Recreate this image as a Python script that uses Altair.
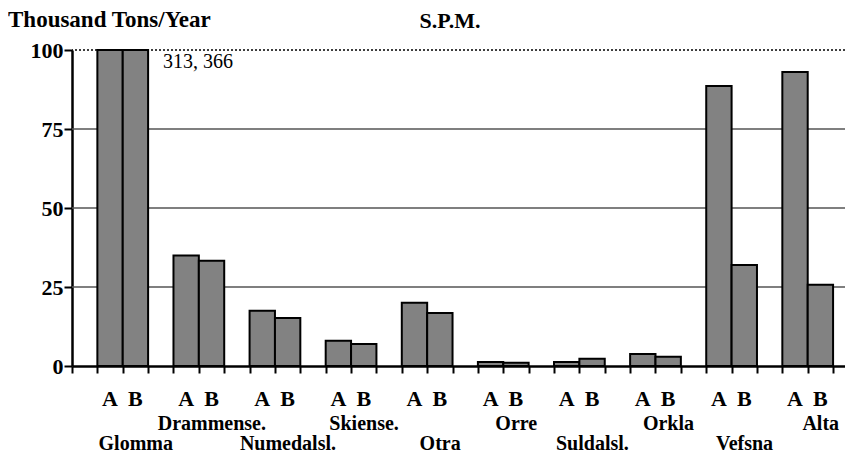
import altair as alt
import pandas as pd

rivers = ["Glomma", "Drammense.", "Numedalsl.", "Skiense.", "Otra",
          "Orre", "Suldalsl.", "Orkla", "Vefsna", "Alta"]
series = ["A", "B"]
a_vals = [313, 35.0, 17.5, 8.0, 20.0, 1.3, 1.3, 3.8, 88.6, 93.0]
b_vals = [366, 33.3, 15.2, 7.0, 16.8, 1.0, 2.3, 2.9, 32.0, 25.7]
y_ticks = [0, 25, 50, 75, 100]
grid_vals = [25, 50, 75]
top_val = [100]
overflow_note = "313, 366"
y_title = "Thousand Tons/Year"
chart_title = "S.P.M."

FONT = "Liberation Serif"
W, H = 773, 316

# build tables
bar_rows, ab_rows, name_rows = [], [], []
for i, r in enumerate(rivers):
    for j, (s, v) in enumerate(zip(series, [a_vals[i], b_vals[i]])):
        bar_rows.append({"river": r, "series": s, "x0": 3 * i + 1 + j,
                         "x1": 3 * i + 2 + j, "value": v})
        ab_rows.append({"label": s, "pos": 3 * i + 1.5 + j})
    name_rows.append({"name": r, "pos": 3 * i + 2, "row": 1 if i % 2 else 2})

bars_df = pd.DataFrame(bar_rows)
ab_df = pd.DataFrame(ab_rows)
names_df = pd.DataFrame(name_rows)

xs = alt.Scale(domain=[0, 30.47], nice=False, zero=False)
ys = alt.Scale(domain=[0, 100], nice=False, clamp=True)

xaxis = alt.Axis(values=list(range(31)), labels=False, tickSize=7, tickWidth=2,
                 tickColor="#000", domainWidth=2.5, domainColor="#000",
                 grid=False, title=None)
yaxis = alt.Axis(values=y_ticks, tickSize=8, tickWidth=2, tickColor="#000",
                 domainWidth=2.5, domainColor="#000", grid=False, title=None,
                 labelFont=FONT, labelFontSize=22, labelFontWeight="bold",
                 labelColor="#000", labelPadding=1)

grid = alt.Chart(pd.DataFrame({"v": grid_vals})).mark_rule(
    color="#555555", strokeWidth=1.3
).encode(y=alt.Y("v:Q", scale=ys, axis=yaxis))

top = alt.Chart(pd.DataFrame({"v": top_val})).mark_rule(
    color="#000000", strokeWidth=1.5, strokeDash=[2, 2]
).encode(y=alt.Y("v:Q", scale=ys, axis=yaxis))

bars = alt.Chart(bars_df).mark_bar(
    fill="#828282", stroke="#000000", strokeWidth=2
).encode(
    x=alt.X("x0:Q", scale=xs, axis=xaxis),
    x2="x1:Q",
    y=alt.Y("value:Q", scale=ys, axis=yaxis),
    y2=alt.datum(0),
)

ab_text = alt.Chart(ab_df).mark_text(
    font=FONT, fontSize=22, fontWeight="bold", color="#000",
    align="center", baseline="alphabetic"
).encode(x=alt.X("pos:Q", scale=xs, axis=xaxis), y=alt.value(356),
         text="label:N")

row1 = alt.Chart(names_df).transform_filter("datum.row == 1").mark_text(
    font=FONT, fontSize=20, fontWeight="bold", color="#000",
    align="center", baseline="alphabetic", dx=13
).encode(x=alt.X("pos:Q", scale=xs, axis=xaxis), y=alt.value(380),
         text="name:N")

row2 = alt.Chart(names_df).transform_filter("datum.row == 2").mark_text(
    font=FONT, fontSize=20, fontWeight="bold", color="#000",
    align="center", baseline="alphabetic", dx=13
).encode(x=alt.X("pos:Q", scale=xs, axis=xaxis), y=alt.value(400),
         text="name:N")

note = alt.Chart(pd.DataFrame({"t": [overflow_note]})).mark_text(
    font=FONT, fontSize=20, color="#000", align="left", baseline="alphabetic"
).encode(x=alt.value(91), y=alt.value(18), text="t:N")

ytitle = alt.Chart(pd.DataFrame({"t": [y_title]})).mark_text(
    font=FONT, fontSize=23, fontWeight="bold", color="#000", align="left",
    baseline="alphabetic"
).encode(x=alt.value(-64), y=alt.value(-23), text="t:N")

ctitle = alt.Chart(pd.DataFrame({"t": [chart_title]})).mark_text(
    font=FONT, fontSize=22, fontWeight="bold", color="#000", align="center",
    baseline="alphabetic"
).encode(x=alt.value(378), y=alt.value(-22), text="t:N")

chart = alt.layer(grid, top, bars, ab_text, row1, row2, note, ytitle, ctitle).properties(
    width=W, height=H,
    autosize=alt.AutoSizeParams(type="none"),
    padding={"left": 64, "top": 42, "right": 0, "bottom": 89},
    background="#ffffff",
).configure_view(stroke=None)

chart.save("out.html", embed_options={"renderer": "svg", "actions": False})
